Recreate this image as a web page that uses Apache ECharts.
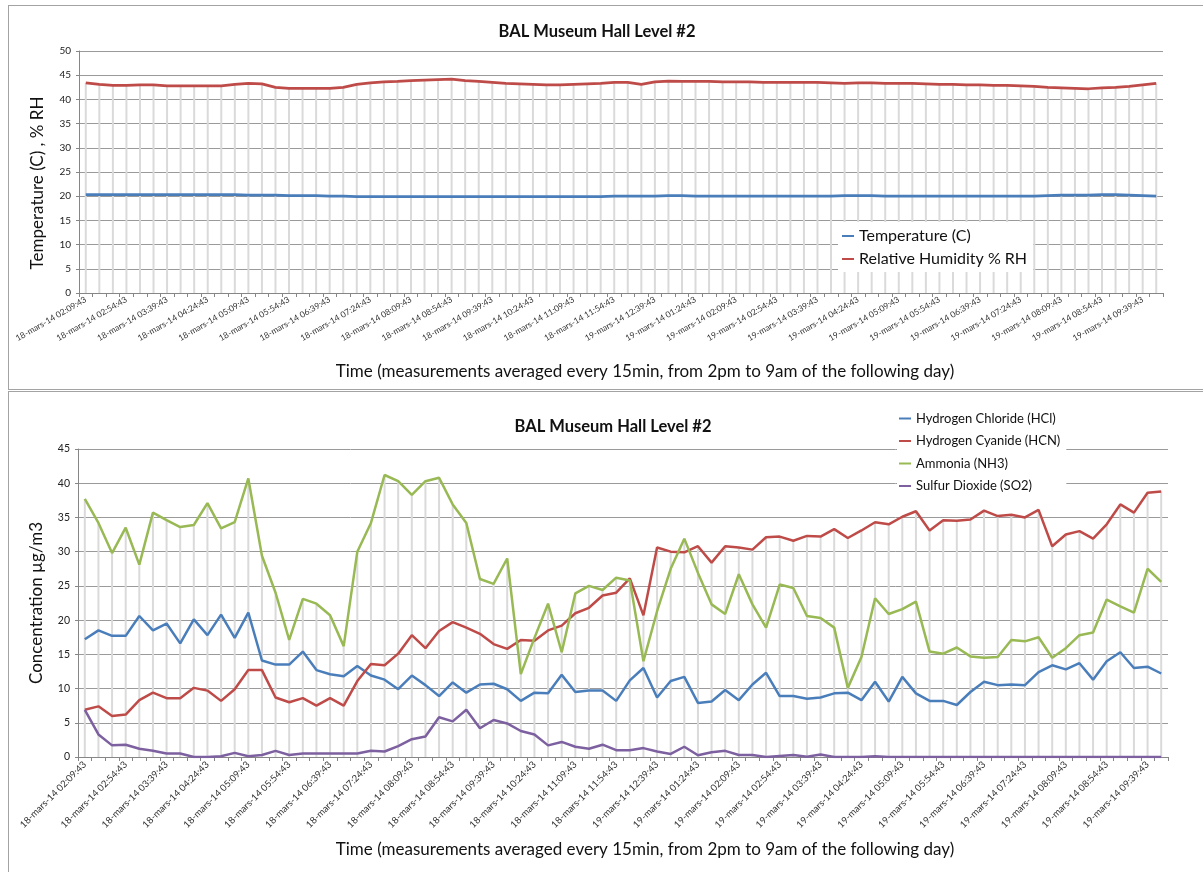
<!DOCTYPE html>
<html>
<head>
<meta charset="utf-8">
<script src="https://cdn.jsdelivr.net/npm/echarts@6/dist/echarts.min.js"></script>
<style>
  html, body { margin: 0; padding: 0; background: #fff; overflow: hidden; }
  body { width: 1203px; height: 872px; position: relative; }
  .frame { position: absolute; left: 8px; width: 1196px; border: 1px solid #a3a3a3; box-sizing: border-box; }
  #topFrame { top: 5px; height: 385px; }
  #bottomFrame { top: 391px; height: 490px; }
  .chart { width: 100%; height: 100%; }
</style>
</head>
<body>
<div id="topFrame" class="frame"><div id="topChart" class="chart"></div></div>
<div id="bottomFrame" class="frame"><div id="bottomChart" class="chart"></div></div>
<script>
// time stamps, every 15 min from 18-mars-14 14:09:43 (shown in 12h clock like the sheet)
const startDay = 18
const startMinute = 14 * 60 + 9
const pointCount = 80
const pad = n => (n < 10 ? '0' : '') + n
const timeLabels = []
for (let i = 0; i < pointCount; i++) {
  const m = startMinute + 15 * i
  const day = startDay + Math.floor(m / 1440)
  const h = Math.floor((m % 1440) / 60)
  const h12 = h % 12 === 0 ? 12 : h % 12
  timeLabels.push(day + '-mars-14 ' + pad(h12) + ':' + pad(m % 60) + ':43')
}

const temperature = [
  20.3, 20.3, 20.3, 20.3, 20.3, 20.3, 20.3, 20.3, 20.3, 20.3,
  20.3, 20.3, 20.2, 20.2, 20.2, 20.1, 20.1, 20.1, 20.0, 20.0,
  19.9, 19.9, 19.9, 19.9, 19.9, 19.9, 19.9, 19.9, 19.9, 19.9,
  19.9, 19.9, 19.9, 19.9, 19.9, 19.9, 19.9, 19.9, 19.9, 20.0,
  20.0, 20.0, 20.0, 20.1, 20.1, 20.0, 20.0, 20.0, 20.0, 20.0,
  20.0, 20.0, 20.0, 20.0, 20.0, 20.0, 20.1, 20.1, 20.1, 20.0,
  20.0, 20.0, 20.0, 20.0, 20.0, 20.0, 20.0, 20.0, 20.0, 20.0,
  20.0, 20.1, 20.2, 20.2, 20.2, 20.3, 20.3, 20.2, 20.1, 20.0
]
const humidity = [
  43.4, 43.1, 42.9, 42.9, 43.0, 43.0, 42.8, 42.8, 42.8, 42.8,
  42.8, 43.1, 43.3, 43.2, 42.5, 42.3, 42.3, 42.3, 42.3, 42.5,
  43.1, 43.4, 43.6, 43.7, 43.9, 44.0, 44.1, 44.2, 43.9, 43.7,
  43.5, 43.3, 43.2, 43.1, 43.0, 43.0, 43.1, 43.2, 43.3, 43.5,
  43.5, 43.1, 43.6, 43.8, 43.7, 43.7, 43.7, 43.6, 43.6, 43.6,
  43.5, 43.5, 43.5, 43.5, 43.5, 43.4, 43.3, 43.4, 43.4, 43.3,
  43.3, 43.3, 43.2, 43.1, 43.1, 43.0, 43.0, 42.9, 42.9, 42.8,
  42.7, 42.5, 42.4, 42.3, 42.2, 42.4, 42.5, 42.7, 43.0, 43.3
]

const hcl = [
  17.2, 18.5, 17.7, 17.7, 20.6, 18.5, 19.5, 16.6, 20.1, 17.8,
  20.8, 17.4, 21.1, 14.1, 13.5, 13.5, 15.4, 12.7, 12.1, 11.8,
  13.3, 11.9, 11.3, 9.9, 11.9, 10.5, 8.9, 10.9, 9.4, 10.6,
  10.7, 9.9, 8.2, 9.4, 9.3, 12.0, 9.5, 9.7, 9.7, 8.2,
  11.2, 13.0, 8.7, 11.1, 11.7, 7.9, 8.1, 9.8, 8.3, 10.6,
  12.3, 8.9, 8.9, 8.5, 8.7, 9.3, 9.4, 8.3, 11.0, 8.1,
  11.7, 9.3, 8.2, 8.2, 7.6, 9.5, 11.0, 10.5, 10.6, 10.5,
  12.4, 13.4, 12.8, 13.7, 11.3, 14.0, 15.3, 13.0, 13.2, 12.2
]
const hcn = [
  6.9, 7.4, 6.0, 6.2, 8.3, 9.4, 8.6, 8.6, 10.1, 9.7,
  8.2, 9.9, 12.7, 12.7, 8.7, 8.0, 8.6, 7.5, 8.6, 7.5,
  11.1, 13.6, 13.4, 15.1, 17.8, 15.9, 18.4, 19.7, 18.9, 18.0,
  16.5, 15.8, 17.1, 17.0, 18.5, 19.2, 21.0, 21.8, 23.6, 24.0,
  26.1, 20.7, 30.6, 30.0, 29.9, 30.8, 28.4, 30.8, 30.6, 30.3,
  32.1, 32.2, 31.6, 32.3, 32.2, 33.3, 32.0, 33.1, 34.3, 34.0,
  35.1, 35.9, 33.1, 34.6, 34.5, 34.7, 36.0, 35.2, 35.4, 35.0,
  36.1, 30.8, 32.5, 33.0, 31.9, 34.0, 36.9, 35.7, 38.6, 38.8
]
const nh3 = [
  37.7, 34.2, 29.8, 33.5, 28.1, 35.7, 34.6, 33.6, 33.9, 37.1,
  33.4, 34.3, 40.7, 29.4, 24.0, 17.1, 23.1, 22.4, 20.7, 16.2,
  30.0, 34.2, 41.2, 40.3, 38.3, 40.3, 40.8, 36.9, 34.2, 26.0,
  25.3, 29.0, 12.1, 17.4, 22.4, 15.3, 23.9, 25.0, 24.4, 26.2,
  25.8, 14.0, 21.3, 27.5, 31.9, 26.9, 22.3, 20.9, 26.7, 22.3,
  18.9, 25.2, 24.7, 20.6, 20.3, 18.9, 10.1, 14.6, 23.2, 20.9,
  21.6, 22.7, 15.4, 15.1, 16.0, 14.7, 14.5, 14.6, 17.1, 16.9,
  17.5, 14.5, 15.9, 17.8, 18.2, 23.0, 22.0, 21.1, 27.5, 25.6
]
const so2 = [
  6.9, 3.3, 1.7, 1.8, 1.2, 0.9, 0.5, 0.5, 0.0, 0.0,
  0.1, 0.6, 0.1, 0.3, 0.9, 0.3, 0.5, 0.5, 0.5, 0.5,
  0.5, 0.9, 0.8, 1.6, 2.6, 3.0, 5.8, 5.2, 6.9, 4.2,
  5.4, 4.9, 3.8, 3.3, 1.7, 2.2, 1.5, 1.2, 1.8, 1.0,
  1.0, 1.3, 0.8, 0.45, 1.5, 0.25, 0.7, 0.9, 0.3, 0.3,
  0.0, 0.15, 0.3, 0.05, 0.35, 0.0, 0.0, 0.0, 0.1, 0.0,
  0.0, 0.0, 0.0, 0.0, 0.0, 0.0, 0.0, 0.0, 0.0, 0.0,
  0.0, 0.0, 0.0, 0.0, 0.0, 0.0, 0.0, 0.0, 0.0, 0.0
]

const chartTitle = 'BAL Museum Hall Level #2'
const xTitle = 'Time (measurements averaged every 15min, from 2pm to 9am of the following day)'
const font = 'Lato, "Open Sans", sans-serif'

// drop lines: from the highest point of each category down to the axis
const dropLines = (...lists) => timeLabels.map((_, i) => Math.max(...lists.map(l => l[i])))

const xAxisBase = (rotate, fontSize, nameGap, namePad) => ({
  type: 'category',
  data: timeLabels,
  boundaryGap: true,
  name: xTitle,
  nameLocation: 'middle',
  nameGap: nameGap,
  nameTextStyle: { fontSize: 17, color: '#111', fontFamily: font, padding: [0, 0, 0, namePad] },
  axisLine: { lineStyle: { color: '#868686', width: 1 } },
  axisTick: { show: true, interval: 0, length: 4, inside: false, lineStyle: { color: '#868686' } },
  axisLabel: { interval: 2, rotate: rotate, fontSize: fontSize, color: '#333', margin: 6, fontFamily: font },
  splitLine: { show: false }
})

const yAxisBase = (max, name, fontSize, namePad) => ({
  type: 'value',
  min: 0,
  max: max,
  interval: 5,
  name: name,
  nameLocation: 'middle',
  nameGap: 33,
  nameTextStyle: { fontSize: 17, color: '#111', fontFamily: font, padding: [0, namePad, 0, 0] },
  axisLine: { show: true, lineStyle: { color: '#868686', width: 1 } },
  axisTick: { show: true, length: 3, lineStyle: { color: '#868686' } },
  axisLabel: { fontSize: fontSize, color: '#222', margin: 8, fontFamily: font },
  splitLine: { lineStyle: { color: '#9a9a9a', width: 1 } }
})

const lineSeries = (name, data, color, width) => ({
  name: name,
  type: 'line',
  data: data,
  showSymbol: false,
  symbol: 'none',
  lineStyle: { color: color, width: width },
  itemStyle: { color: color },
  z: 3
})

const dropSeries = data => ({
  type: 'bar',
  data: data,
  barWidth: 2,
  silent: true,
  itemStyle: { color: '#dadada' },
  z: 1
})

const topOption = {
  animation: false,
  textStyle: { fontFamily: font },
  title: {
    text: chartTitle,
    left: 583,
    top: 12,
    textAlign: 'center',
    textStyle: { fontSize: 16.5, fontWeight: 'bold', color: '#111', fontFamily: font }
  },
  legend: {
    data: ['Temperature (C)', 'Relative Humidity % RH'],
    orient: 'vertical',
    left: 829,
    top: 216,
    padding: [6, 6, 5, 4],
    itemGap: 7,
    itemWidth: 12,
    itemHeight: 2,
    icon: 'rect',
    backgroundColor: '#fff',
    textStyle: { fontSize: 16, color: '#111', fontFamily: font }
  },
  grid: { left: 70, top: 45, width: 1084, height: 242, containLabel: false, outerBoundsMode: 'none' },
  xAxis: xAxisBase(30, 8.5, 70, 48),
  yAxis: yAxisBase(50, 'Temperature (C) , % RH', 10, 22),
  series: [
    dropSeries(dropLines(temperature, humidity)),
    lineSeries('Temperature (C)', temperature, '#4a7ebb', 2.75),
    lineSeries('Relative Humidity % RH', humidity, '#be4b48', 2.75)
  ]
}

const bottomOption = {
  animation: false,
  textStyle: { fontFamily: font },
  title: {
    text: chartTitle,
    left: 599,
    top: 21,
    textAlign: 'center',
    textStyle: { fontSize: 16.5, fontWeight: 'bold', color: '#111', fontFamily: font }
  },
  legend: {
    data: ['Hydrogen Chloride (HCl)', 'Hydrogen Cyanide (HCN)', 'Ammonia (NH3)', 'Sulfur Dioxide (SO2)'],
    orient: 'vertical',
    left: 888,
    top: 15,
    padding: [5, 6, 5, 2],
    itemGap: 9.5,
    itemWidth: 12,
    itemHeight: 2,
    icon: 'rect',
    backgroundColor: '#fff',
    textStyle: { fontSize: 13, color: '#111', fontFamily: font }
  },
  grid: { left: 69, top: 57, width: 1090, height: 308, containLabel: false, outerBoundsMode: 'none' },
  xAxis: xAxisBase(45, 9.5, 84, 44),
  yAxis: yAxisBase(45, 'Concentration µg/m3', 10.5, 0),
  series: [
    dropSeries(dropLines(hcl, hcn, nh3, so2)),
    lineSeries('Hydrogen Chloride (HCl)', hcl, '#4a7ebb', 2.5),
    lineSeries('Hydrogen Cyanide (HCN)', hcn, '#be4b48', 2.5),
    lineSeries('Ammonia (NH3)', nh3, '#98b954', 2.5),
    lineSeries('Sulfur Dioxide (SO2)', so2, '#7d60a0', 2.5)
  ]
}

const topChart = echarts.init(document.getElementById('topChart'))
topChart.setOption(topOption)
const bottomChart = echarts.init(document.getElementById('bottomChart'))
bottomChart.setOption(bottomOption)
</script>
</body>
</html>
